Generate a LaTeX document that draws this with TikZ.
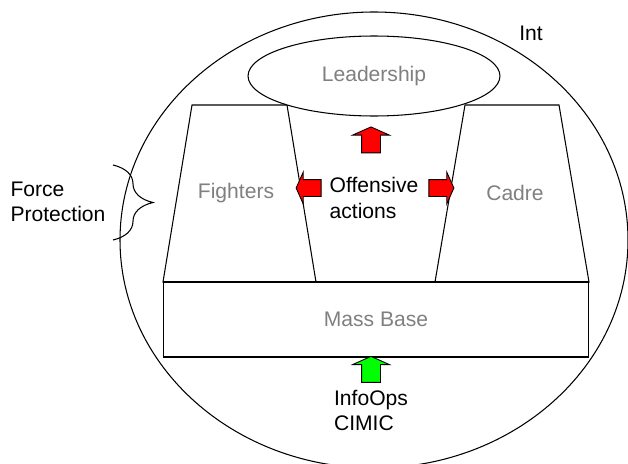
\documentclass[tikz,border=0pt]{standalone}
\usepackage{fontspec}
\setmainfont{Liberation Sans}
\usetikzlibrary{shapes.geometric,shapes.arrows,decorations.pathreplacing,positioning}

\begin{document}
\begin{tikzpicture}[x=0.02cm,y=-0.02cm,line width=0.6pt,font={\fontsize{12}{14.4}\selectfont},
  grey/.style={text=black!50},
  blockup/.style={single arrow,draw,line width=0.5pt,inner sep=0.18cm,minimum height=0.52cm,single arrow head extend=0.18cm,single arrow tip angle=132,rotate=90},
  blockside/.style={single arrow,draw,fill=red,line width=0.5pt,inner sep=0.16cm,minimum height=0.5cm,single arrow head extend=0.15cm,single arrow tip angle=132}]
\path[use as bounding box] (0,0) rectangle (628,463);
\clip (0,0) rectangle (628,463);

% outer ellipse (cut at the bottom)
\draw (374,240) ellipse [x radius=254, y radius=228];
\node (int) at (531,33) {Int};

% the three blocks
\draw (192,105) -- (287,105) -- (316,282) -- (163,282) -- cycle;
\draw (465,105) -- (559,105) -- (589,282) -- (435,282) -- cycle;
\node[draw,minimum width=8.52cm,minimum height=1.5cm,inner sep=0pt,grey] (mass) at (376,319.5) {Mass Base};
\node[grey] (fighters) at (236,193) {Fighters};
\node[grey] (cadre) at (515,193) {Cadre};

\node[ellipse,draw,fill=white,minimum width=5.04cm,minimum height=1.6cm,inner sep=0pt,grey] (leader) at (374,76) {Leadership};

% offensive actions
\node[align=left,inner sep=0pt] (offens) at (374,198) {Offensive\\actions};
\node[blockup,fill=red] (up) at (371,142) {};
\node[blockside,rotate=180] (left) at (310.5,188) {};
\node[blockside] (right) at (439.5,188) {};

% info ops
\node[blockup,fill=green] (info) at (371,371.5) {};
\node[align=left,inner sep=0pt,below=0.14cm of info.west,anchor=north] (cimic) {InfoOps\\CIMIC};

% force protection
\node[align=left,inner sep=0pt,anchor=west] (force) at (10,202) {Force\\Protection};
\draw[decorate,decoration={brace,amplitude=0.8cm}] (113,165) -- (113,240);

\end{tikzpicture}
\end{document}
